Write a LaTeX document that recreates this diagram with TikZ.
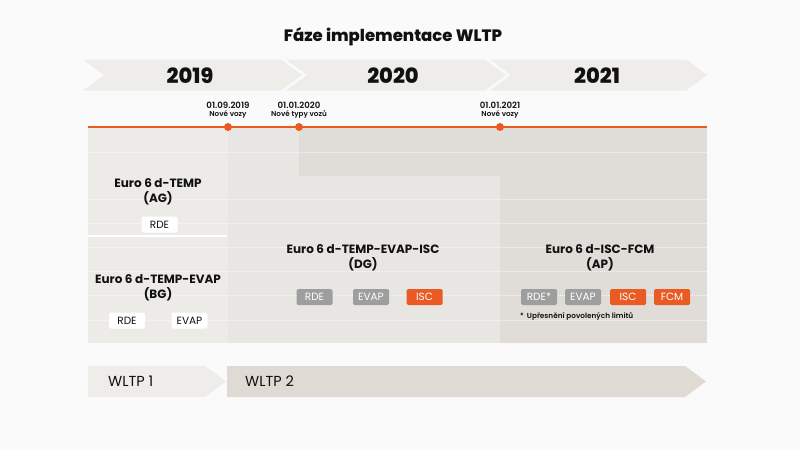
\documentclass[tikz,border=0pt]{standalone}
\usepackage{fontspec}
\setmainfont{Poppins}
\newfontfamily\semib{Poppins SemiBold}
\newfontfamily\xbold{Poppins ExtraBold}
\definecolor{bgc}{HTML}{FAFAFA}
\definecolor{band}{HTML}{EEEDEA}
\definecolor{lightc}{HTML}{EDEBE8}
\definecolor{midc}{HTML}{E8E6E2}
\definecolor{darkc}{HTML}{E0DCD7}
\definecolor{wltpb}{HTML}{DFDAD4}
\definecolor{orng}{HTML}{EA5B24}
\definecolor{grayb}{HTML}{9E9E9E}
\definecolor{txt}{HTML}{111111}
\tikzset{
  year/.style={font=\fontsize{21}{23}\selectfont\xbold, text=txt},
  datelbl/.style={align=center, font=\fontsize{8.6}{9.5}\selectfont\semib, text=txt, inner sep=0pt},
  euro/.style={align=center, font=\fontsize{12}{14.5}\selectfont\bfseries, text=txt, inner sep=0pt},
  tagbox/.style={minimum width=36pt, minimum height=16pt, inner sep=0pt, rounded corners=1.5pt, font=\fontsize{10.5}{11}\selectfont},
  whitetag/.style={tagbox, fill=white, text=txt},
  graytag/.style={tagbox, fill=grayb, text=white},
  orangetag/.style={tagbox, fill=orng, text=white},
  dot/.style={circle, fill=orng, minimum size=8pt, inner sep=0pt},
  grid/.style={white, opacity=0.7, line width=0.5pt, dash pattern=on 1pt off 1pt},
  wltp/.style={font=\fontsize{14.5}{15}\selectfont, text=txt, anchor=west, inner sep=0pt}
}
\begin{document}
\begin{tikzpicture}[x=1pt,y=-1pt]
\fill[bgc] (0,0) rectangle (800,450);
\useasboundingbox (0,0) rectangle (800,450);
% title
\node[font=\fontsize{16.5}{18}\selectfont\xbold, text=txt] (title) at (393,37) {Fáze implementace WLTP};
% year chevrons
\fill[band] (83,59.5) -- (281,59.5) -- (302,75) -- (281,90.5) -- (83,90.5) -- (104,75) -- cycle;
\fill[band] (286,59.5) -- (485,59.5) -- (506,75) -- (485,90.5) -- (286,90.5) -- (307,75) -- cycle;
\fill[band] (490,59.5) -- (686,59.5) -- (707,75) -- (686,90.5) -- (490,90.5) -- (511,75) -- cycle;
\node[year] (y2019) at (190,75.5) {2019};
\node[year] (y2020) at (393,75.5) {2020};
\node[year] (y2021) at (597,75.5) {2021};
% panel
\fill[lightc] (88,127) rectangle (228,343);
\fill[midc] (228,127) rectangle (500,343);
\fill[darkc] (299,127) rectangle (707,176);
\fill[darkc] (500,176) rectangle (707,343);
\foreach \yy in {152,199,223,247,271,295,320}{
  \draw[grid] (88,\yy) -- (707,\yy);
}
\draw[white, line width=2pt] (88,236) -- (227,236);
% timeline
\coordinate (tl0) at (88,127);
\coordinate (tl1) at (707,127);
\draw[orng, line width=1.5pt] (tl0) -- (tl1);
\node[dot] (d1) at (228,127) {};
\node[dot] (d2) at (299,127) {};
\node[dot] (d3) at (500,127) {};
\node[datelbl] (l1) at (228,110) {01.09.2019\\[-1pt]{\fontsize{7.2}{8}\selectfont Nové vozy}};
\node[datelbl] (l2) at (299,110) {01.01.2020\\[-1pt]{\fontsize{7.2}{8}\selectfont Nové typy vozů}};
\node[datelbl] (l3) at (500,110) {01.01.2021\\[-1pt]{\fontsize{7.2}{8}\selectfont Nové vozy}};
% AG
\node[euro] (ag) at (158,192) {Euro 6 d-TEMP\\(AG)};
\node[whitetag] (agrde) at (159.5,224.5) {RDE};
% BG
\node[euro] (bg) at (158,288) {Euro 6 d-TEMP-EVAP\\(BG)};
\node[whitetag] (bgrde) at (127,320.5) {RDE};
\node[whitetag] (bgevap) at (189.5,320.5) {EVAP};
% DG
\node[euro] (dg) at (363,258) {Euro 6 d-TEMP-EVAP-ISC\\(DG)};
\node[graytag] (dgrde) at (314.5,297) {RDE};
\node[graytag] (dgevap) at (371,297) {EVAP};
\node[orangetag] (dgisc) at (424.5,297) {ISC};
% AP
\node[euro] (ap) at (600,258) {Euro 6 d-ISC-FCM\\(AP)};
\node[graytag] (aprde) at (539,297) {RDE*};
\node[graytag] (apevap) at (583,297) {EVAP};
\node[orangetag] (apisc) at (628,297) {ISC};
\node[orangetag] (apfcm) at (672,297) {FCM};
\node[anchor=west, inner sep=0pt, font=\fontsize{7.3}{8}\selectfont\semib, text=txt] (note) at (520,316.5) {*\hspace{3pt}Upřesnění povolených limitů};
% WLTP bands
\fill[band] (88,366) -- (205,366) -- (226,381.5) -- (205,397) -- (88,397) -- cycle;
\fill[wltpb] (227,366) -- (685,366) -- (706,381.5) -- (685,397) -- (227,397) -- cycle;
\node[wltp] (w1) at (108,381.5) {WLTP 1};
\node[wltp] (w2) at (245,381.5) {WLTP 2};
\end{tikzpicture}
\end{document}
